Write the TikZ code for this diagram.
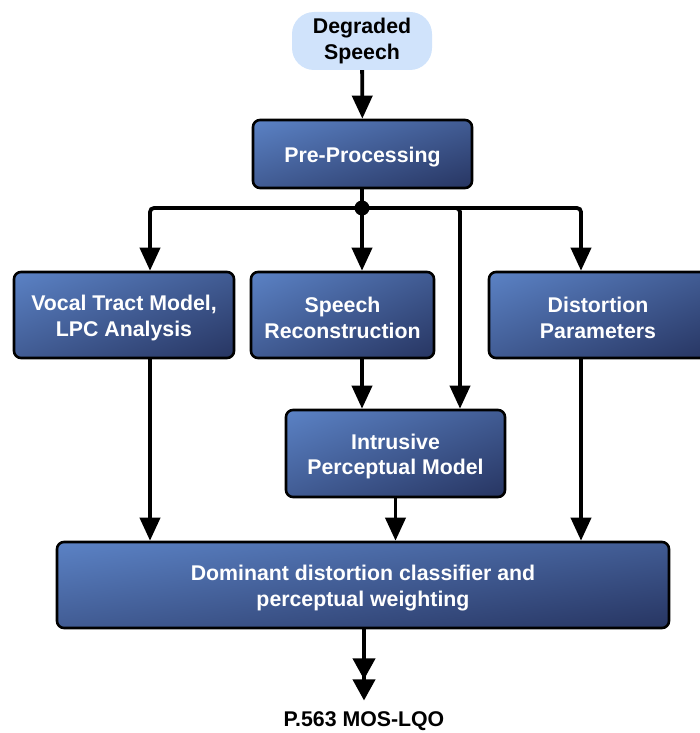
\documentclass[tikz,border=0pt]{standalone}
\usepackage{fontspec}
\setmainfont{Liberation Sans}
\usetikzlibrary{arrows.meta}
\definecolor{pillfill}{RGB}{208,227,251}
% diagonal blue gradient, light at the top-left corner, navy at the bottom-right
\pgfdeclarefunctionalshading{boxgrad}{\pgfpoint{-50bp}{-50bp}}{\pgfpoint{50bp}{50bp}}{}{
  sub 50 add 100 div
  dup 0 lt {pop 0} if
  dup 1 gt {pop 1} if
  dup dup
  -0.390 mul 0.773 add 3 1 roll
  -0.302 mul 0.510 add 3 1 roll
  -0.204 mul 0.357 add 3 1 roll
}
\begin{document}
\begin{tikzpicture}[x=1pt,y=-1pt,
  lbl/.style={font=\fontsize{21.3}{25.5}\selectfont\bfseries, align=center},
  btext/.style={lbl, text=white, inner sep=0pt, yshift=-3pt},
  box/.style={draw=black, line width=2.6pt, rounded corners=7pt,
    inner sep=0pt, shade, shading=boxgrad},
  pill/.style={lbl, fill=pillfill, rounded corners=22pt, inner sep=0pt,
    minimum width=140pt, minimum height=58pt},
  arr/.style={line width=3.8pt, rounded corners=4pt,
    -{Triangle[length=23pt,width=20pt]}},
  arrdbl/.style={line width=3.8pt,
    -{Triangle[length=21pt,width=22pt]Triangle[length=21pt,width=22pt]}}]
\useasboundingbox (0,0) rectangle (700,733);

% blocks
\node[pill] (deg) at (362,41) {Degraded\\Speech};
\node[box, minimum width=219pt, minimum height=68pt,
  label={[btext]center:Pre-Processing}] (pre) at (362.5,154) {};
\node[box, minimum width=220pt, minimum height=86pt,
  label={[btext]center:Vocal Tract Model,\\LPC Analysis}] (vocal) at (124,315) {};
\node[box, minimum width=183pt, minimum height=86pt,
  label={[btext]center:Speech\\Reconstruction}] (recon) at (342.5,315) {};
\node[box, minimum width=218pt, minimum height=86pt,
  label={[btext]center:Distortion\\Parameters}] (dist) at (598,315) {};
\node[box, minimum width=219pt, minimum height=87pt,
  label={[btext]center:Intrusive\\Perceptual Model}] (intr) at (395.5,453.5) {};
\node[box, minimum width=612pt, minimum height=86pt,
  label={[btext]center:Dominant distortion classifier and\\perceptual weighting}] (dom) at (363,585) {};
\node[lbl, inner sep=0pt, outer sep=11pt] (out) at (364,721) {P.563 MOS-LQO};

% distribution bus below pre-processing
\coordinate (jn) at (362,208);
\coordinate (bL) at (150,208);
\coordinate (bI) at (460,208);
\coordinate (bR) at (581,208);

\draw[arr] (deg) -- (pre);
\draw[line width=3.8pt] (pre.south -| jn) -- (jn);
\draw[arr] (jn) -- (bL) -- (bL |- vocal.north);
\draw[arr] (jn) -- (jn |- recon.north);
\draw[arr] (jn) -- (bI) -- (bI |- intr.north);
\draw[arr] (jn) -- (bR) -- (bR |- dist.north);
\fill (jn) circle (7.5pt);

% into the classifier
\draw[arr] (jn |- recon.south) -- (jn |- intr.north);
\draw[arr] (bL |- vocal.south) -- (bL |- dom.north);
\draw[arr] (intr.south) -- (intr.south |- dom.north);
\draw[arr] (bR |- dist.south) -- (bR |- dom.north);
\draw[arrdbl] (dom.south -| out) -- (out.north);
\end{tikzpicture}
\end{document}
